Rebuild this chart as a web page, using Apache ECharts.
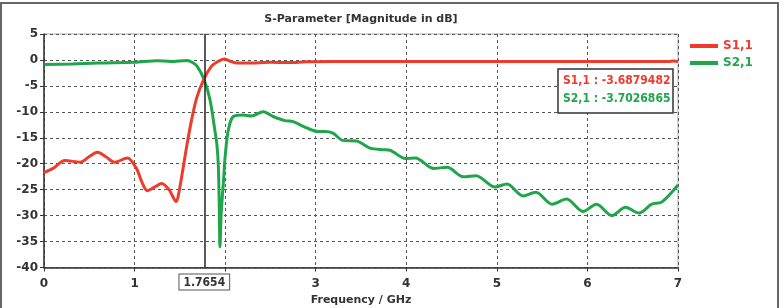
<!DOCTYPE html>
<html>
<head>
<meta charset="utf-8">
<style>
  html, body { margin: 0; padding: 0; background: #fff; }
  #chart { width: 784px; height: 308px; }
</style>
<script src="https://cdn.jsdelivr.net/npm/echarts@6/dist/echarts.min.js"></script>
</head>
<body>
<div id="chart"></div>
<script>
var chart = echarts.init(document.getElementById('chart'));

// S1,1 (GHz, dB)
const s11Freq = [0, 0.1, 0.23, 0.4, 0.5, 0.59, 0.68, 0.78, 0.92, 1.02, 1.08, 1.14, 1.22, 1.3, 1.38, 1.46, 1.49, 1.52, 1.575, 1.63, 1.686, 1.7654, 1.85, 1.92, 1.99, 2.05, 2.13, 2.25, 2.5, 2.7, 2.9, 3.2, 4, 5, 6, 6.9, 6.95, 7];
const s11Mag = [-21.7, -20.9, -19.4, -19.7, -18.6, -17.8, -18.6, -19.7, -18.9, -20.9, -23.5, -25.2, -24.5, -23.8, -25, -27.3, -25.5, -22.5, -16.7, -11.5, -7.3, -3.69, -1.2, -0.3, 0.2, -0.2, -0.6, -0.6, -0.45, -0.5, -0.35, -0.3, -0.3, -0.3, -0.3, -0.3, -0.2, -0.3];

// S2,1
const s21Freq = [0, 0.3, 0.6, 1.0, 1.25, 1.4, 1.58, 1.64, 1.69, 1.7654, 1.833, 1.886, 1.91, 1.925, 1.935, 1.943, 1.955, 1.97, 1.98, 2.0, 2.035, 2.09, 2.2, 2.29, 2.42, 2.53, 2.66, 2.75, 2.9, 3.03, 3.1, 3.19, 3.3, 3.45, 3.6, 3.75, 3.82, 3.99, 4.1, 4.3, 4.45, 4.63, 4.77, 4.98, 5.11, 5.29, 5.43, 5.61, 5.77, 5.95, 6.1, 6.27, 6.42, 6.57, 6.71, 6.82, 7.0];
const s21Mag = [-0.9, -0.8, -0.6, -0.45, -0.15, -0.3, -0.1, -0.5, -1.2, -3.7, -7.7, -13.5, -16.5, -20.5, -28, -36, -30, -26, -23.8, -18.6, -13.5, -10.9, -10.6, -10.8, -10.0, -10.9, -11.7, -11.9, -13.1, -13.8, -13.8, -14.1, -15.5, -15.6, -17, -17.3, -17.4, -19.0, -18.9, -20.9, -20.7, -22.5, -22.3, -24.5, -23.9, -26.2, -25.5, -27.8, -26.8, -29.2, -27.8, -30.0, -28.4, -29.5, -27.8, -27.4, -24.1];

const markerFreq = 1.7654;
const markerS11 = '-3.6879482';
const markerS21 = '-3.7026865';

const RED = '#ee3b2d';
const GREEN = '#1fa64b';
const FONT = 'DejaVu Sans';
const NARROW = '"DejaVu Sans Condensed", "DejaVu Sans"';

const pairs = (xs, ys) => xs.map((x, i) => [x, ys[i]]);

var option = {
  animation: false,
  grid: {
    left: 44, right: 106, top: 34, bottom: 40.5,
    outerBoundsMode: 'none',
    containLabel: false,
    show: true, borderColor: '#aaa', borderWidth: 1
  },
  xAxis: {
    type: 'value',
    min: 0, max: 7, interval: 1,
    name: 'Frequency / GHz',
    nameLocation: 'middle',
    nameGap: 26,
    nameTextStyle: { fontFamily: FONT, fontWeight: 'bold', fontSize: 11, color: '#333' },
    axisLine: { onZero: false, lineStyle: { color: '#333', width: 1.5 } },
    axisTick: { show: true, length: 4, lineStyle: { color: '#333' } },
    axisLabel: {
      fontFamily: FONT, fontWeight: 'bold', fontSize: 12, color: '#333', margin: 10,
      formatter: v => (v === 2 ? '' : v)
    },
    splitLine: { show: true, lineStyle: { color: '#555', type: [3, 3], width: 1 } }
  },
  yAxis: {
    type: 'value',
    min: -40, max: 5, interval: 5,
    axisLine: { show: true, onZero: false, lineStyle: { color: '#333', width: 1.5 } },
    axisTick: { show: true, length: 4, lineStyle: { color: '#333' } },
    axisLabel: { fontFamily: FONT, fontWeight: 'bold', fontSize: 12, color: '#333', margin: 6 },
    splitLine: { show: true, lineStyle: { color: '#555', type: [3, 3], width: 1 } }
  },
  legend: {
    orient: 'vertical',
    left: 690, top: 40,
    padding: 0,
    icon: 'rect',
    itemWidth: 28, itemHeight: 4,
    itemGap: 5,
    textStyle: { fontFamily: FONT, fontWeight: 'bold', fontSize: 12 },
    data: [
      { name: 'S1,1', textStyle: { color: RED } },
      { name: 'S2,1', textStyle: { color: GREEN } }
    ]
  },
  series: [
    {
      name: 'S1,1',
      type: 'line',
      data: pairs(s11Freq, s11Mag),
      smooth: 0.3,
      showSymbol: false,
      color: RED,
      lineStyle: { width: 3, color: RED },
      z: 3,
      markLine: {
        silent: true,
        symbol: 'none',
        lineStyle: { color: '#222', type: 'solid', width: 1.5 },
        label: {
          show: true,
          position: 'start',
          formatter: String(markerFreq),
          fontFamily: NARROW, fontWeight: 'bold', fontSize: 12, color: '#333',
          backgroundColor: '#fff',
          borderColor: '#555', borderWidth: 1,
          padding: [2, 4, 1, 4],
          distance: 7
        },
        data: [{ xAxis: markerFreq }]
      }
    },
    {
      name: 'S2,1',
      type: 'line',
      data: pairs(s21Freq, s21Mag),
      smooth: 0.3,
      showSymbol: false,
      color: GREEN,
      lineStyle: { width: 3, color: GREEN },
      z: 2
    }
  ],
  graphic: [
    {
      type: 'rect',
      shape: { x: 1, y: 3, width: 777, height: 320 },
      style: { fill: 'none', stroke: '#666', lineWidth: 2 },
      silent: true
    },
    {
      type: 'text',
      x: 361, y: 19,
      style: {
        text: 'S-Parameter [Magnitude in dB]',
        fontFamily: FONT, fontWeight: 'bold', fontSize: 11, fill: '#333',
        align: 'center', verticalAlign: 'middle'
      }
    },
    {
      type: 'rect',
      z: 10,
      shape: { x: 558, y: 69, width: 115, height: 44 },
      style: { fill: '#fff', stroke: '#333', lineWidth: 1.5 }
    },
    {
      type: 'text',
      z: 11,
      x: 563, y: 81,
      style: {
        text: 'S1,1 : ' + markerS11,
        fontFamily: NARROW, fontWeight: 'bold', fontSize: 12, fill: RED,
        verticalAlign: 'middle'
      }
    },
    {
      type: 'text',
      z: 11,
      x: 563, y: 99,
      style: {
        text: 'S2,1 : ' + markerS21,
        fontFamily: NARROW, fontWeight: 'bold', fontSize: 12, fill: GREEN,
        verticalAlign: 'middle'
      }
    }
  ]
};

chart.setOption(option);
</script>
</body>
</html>
